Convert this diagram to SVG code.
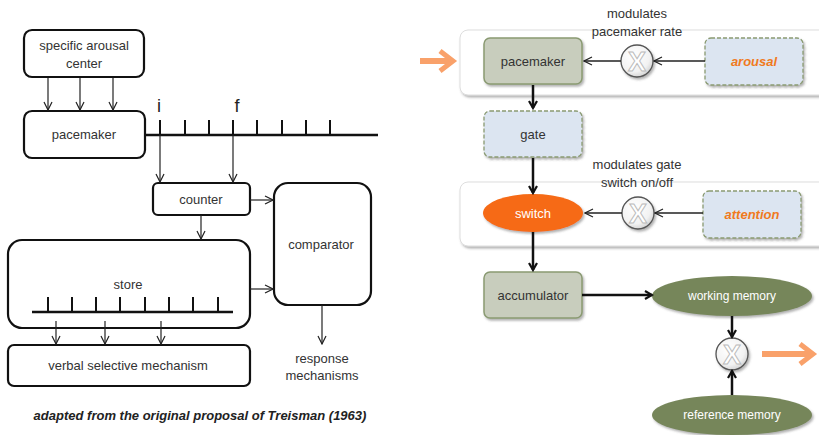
<svg xmlns="http://www.w3.org/2000/svg" width="819" height="435" viewBox="0 0 819 435">
<style>
text{font-family:"Liberation Sans",Arial,sans-serif;font-size:13px;fill:#333;text-anchor:middle}
.bx{fill:#fff;stroke:#111;stroke-width:2.2}
.ln{stroke:#222;stroke-width:1.2;fill:none}
.axis{stroke:#111;stroke-width:2.5;fill:none}
.tk{stroke:#111;stroke-width:2}
.rb{fill:#C8CDBD;stroke:#8A9A72;stroke-width:1.5}
.db{fill:#DCE5F1;stroke:#8A9A72;stroke-width:1.3;stroke-dasharray:4 2}
.el{fill:#76865A}
.wt{fill:#fff}
.or{fill:#F07A1E;font-weight:bold;font-style:italic}
.pn{fill:#fff;stroke:#ddd;stroke-width:1}
.thk{stroke:#111;stroke-width:2.5;fill:none}
.thn{stroke:#222;stroke-width:1.3;fill:none}
.oa{stroke:#F9A16A;stroke-width:6;fill:none}
.oh{stroke:#F9A16A;stroke-width:5;fill:none;stroke-linejoin:miter}
.xt{font-size:27px;font-weight:bold;fill:#fff;stroke:#bbb;stroke-width:1}
</style>
<defs>
<marker id="oh" viewBox="0 0 10 10" refX="9" refY="5" markerWidth="10" markerHeight="10" markerUnits="userSpaceOnUse" orient="auto">
<path d="M1 1 L9 5 L1 9" fill="none" stroke="#222" stroke-width="1.2"/>
</marker>
<marker id="th" viewBox="0 0 10 10" refX="8" refY="5" markerWidth="10" markerHeight="10" markerUnits="userSpaceOnUse" orient="auto">
<path d="M1 1 L8 5 L1 9" fill="none" stroke="#111" stroke-width="2.2"/>
</marker>
<filter id="sh" x="-10%" y="-10%" width="125%" height="130%">
<feDropShadow dx="1.5" dy="2" stdDeviation="1.2" flood-color="#555" flood-opacity="0.45"/>
</filter>
<radialGradient id="xg" cx="40%" cy="35%" r="70%">
<stop offset="0" stop-color="#fff"/><stop offset="0.7" stop-color="#f2f2f2"/><stop offset="1" stop-color="#cfcfcf"/>
</radialGradient>
</defs>

<!-- LEFT DIAGRAM -->
<g id="arousal-center"><rect class="bx" x="24" y="30" width="120" height="47" rx="8"/><text x="84" y="50">specific arousal</text><text x="84" y="68">center</text></g>
<g id="pacemaker-l"><rect class="bx" x="24" y="111" width="121" height="47" rx="8"/><text x="84" y="139">pacemaker</text></g>
<g id="counter"><rect class="bx" x="153" y="183" width="97" height="32" rx="5"/><text x="201" y="204">counter</text></g>
<g id="comparator"><rect class="bx" x="274" y="183" width="97" height="122" rx="14"/><text x="321" y="249">comparator</text></g>
<g id="store"><rect class="bx" x="8" y="240" width="242" height="88" rx="14"/><text x="128" y="289">store</text>
<path class="axis" d="M32 312 H233"/>
<path class="tk" d="M48 297V312M72 297V312M96 297V312M120 297V312M145 297V312M169 297V312M193 297V312M218 297V312"/></g>
<g id="verbal"><rect class="bx" x="8" y="345" width="242" height="41" rx="6"/><text x="128" y="370">verbal selective mechanism</text></g>
<g id="response"><text x="322" y="363">response</text><text x="322" y="380">mechanisms</text></g>
<g id="timeline"><path class="axis" d="M145 135 H378"/>
<path class="tk" d="M160 120V135M185 120V135M209 120V135M233 120V135M257 120V135M282 120V135M306 120V135M330 120V135"/>
<text x="159" y="112" style="font-size:18px;fill:#222">i</text><text x="237" y="112" style="font-size:18px;fill:#222">f</text></g>
<text x="200" y="420" style="font-weight:bold;font-style:italic;font-size:13px;fill:#222">adapted from the original proposal of Treisman (1963)</text>

<g id="left-connectors">
<path class="ln" marker-end="url(#oh)" d="M48 78V110"/>
<path class="ln" marker-end="url(#oh)" d="M80 78V110"/>
<path class="ln" marker-end="url(#oh)" d="M113 78V110"/>
<path class="ln" marker-end="url(#oh)" d="M160 135V182"/>
<path class="ln" marker-end="url(#oh)" d="M233 135V182"/>
<path class="ln" marker-end="url(#oh)" d="M250 200H273"/>
<path class="ln" marker-end="url(#oh)" d="M201 215V239"/>
<path class="ln" marker-end="url(#oh)" d="M250 289H273"/>
<path class="ln" marker-end="url(#oh)" d="M56 321V344"/>
<path class="ln" marker-end="url(#oh)" d="M105 321V344"/>
<path class="ln" marker-end="url(#oh)" d="M161 321V344"/>
<path class="ln" marker-end="url(#oh)" d="M322 305V344"/>
</g>

<!-- RIGHT DIAGRAM -->
<g id="panel1"><rect class="pn" x="460" y="30" width="370" height="65" rx="8" filter="url(#sh)"/></g>
<g id="panel2"><rect class="pn" x="460" y="182" width="370" height="64" rx="8" filter="url(#sh)"/></g>
<g id="mod1"><text x="637" y="18">modulates</text><text x="637" y="36">pacemaker rate</text></g>
<g id="mod2"><text x="637" y="169">modulates gate</text><text x="637" y="187">switch on/off</text></g>
<g id="pacemaker-r"><rect class="rb" x="484" y="38" width="98" height="46" rx="6" filter="url(#sh)"/><text x="533" y="66">pacemaker</text></g>
<g id="arousal"><rect class="db" x="705" y="38" width="98" height="47" rx="6" filter="url(#sh)"/><text class="or" x="754" y="66">arousal</text></g>
<g id="gate"><rect class="db" x="484" y="111" width="98" height="46" rx="6" filter="url(#sh)"/><text x="533" y="139">gate</text></g>
<g id="switch"><ellipse cx="533" cy="213" rx="50" ry="19" fill="#F66A13" filter="url(#sh)"/><text class="wt" x="533" y="218">switch</text></g>
<g id="attention"><rect class="db" x="703" y="191" width="98" height="47" rx="6" filter="url(#sh)"/><text class="or" x="752" y="219">attention</text></g>
<g id="accumulator"><rect class="rb" x="484" y="272" width="98" height="46" rx="6" filter="url(#sh)"/><text x="533" y="300">accumulator</text></g>
<g id="working-memory"><ellipse class="el" cx="732" cy="296" rx="80" ry="20" filter="url(#sh)"/><text class="wt" x="732" y="300" style="font-size:12px">working memory</text></g>
<g id="reference-memory"><ellipse class="el" cx="732" cy="415" rx="80" ry="20" filter="url(#sh)"/><text class="wt" x="732" y="419" style="font-size:12px">reference memory</text></g>
<g id="x1"><circle cx="637" cy="61" r="16" fill="url(#xg)" stroke="#555" stroke-width="1.3" filter="url(#sh)"/><text class="xt" x="637" y="71">X</text></g>
<g id="x2"><circle cx="638" cy="213" r="16" fill="url(#xg)" stroke="#555" stroke-width="1.3" filter="url(#sh)"/><text class="xt" x="638" y="223">X</text></g>
<g id="x3"><circle cx="732" cy="354" r="16" fill="url(#xg)" stroke="#555" stroke-width="1.3" filter="url(#sh)"/><text class="xt" x="732" y="364">X</text></g>

<g id="right-connectors">
<path class="oa" d="M420 61H450"/>
<path class="oh" d="M440 51L453 61L440 71"/>
<path class="oa" d="M762 354H810"/>
<path class="oh" d="M800 344L813 354L800 364"/>
<path class="thn" marker-end="url(#oh)" d="M705 61H654"/>
<path class="thn" marker-end="url(#oh)" d="M621 61H584"/>
<path class="thn" marker-end="url(#oh)" d="M703 213H655"/>
<path class="thn" marker-end="url(#oh)" d="M622 213H585"/>
<path class="thk" marker-end="url(#th)" d="M533 85V108"/>
<path class="thk" marker-end="url(#th)" d="M533 158V193"/>
<path class="thk" marker-end="url(#th)" d="M533 232V270"/>
<path class="thk" marker-end="url(#th)" d="M582 295H652"/>
<path class="thk" marker-end="url(#th)" d="M732 316V337"/>
<path class="thk" marker-end="url(#th)" d="M732 395V371"/>
</g>
</svg>
